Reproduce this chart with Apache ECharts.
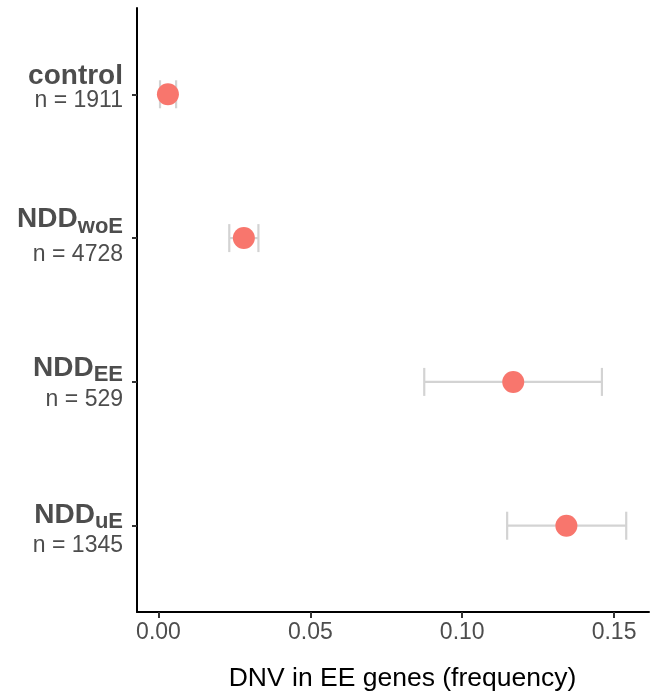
<!DOCTYPE html>
<html>
<head>
<meta charset="utf-8">
<script src="https://cdn.jsdelivr.net/npm/echarts@6/dist/echarts.min.js"></script>
<style>
html,body{margin:0;padding:0;background:#fff;}
#chart{width:650px;height:691px;}
</style>
</head>
<body>
<div id="chart"></div>
<script>
// Data
var groupMain = ['control', 'NDD', 'NDD', 'NDD'];
var groupSub = ['', 'woE', 'EE', 'uE'];
var groupN = [1911, 4728, 529, 1345];
var freq = [0.0031, 0.0281, 0.1168, 0.1343];
var ciLow = [0.0005, 0.0233, 0.0875, 0.1148];
var ciHigh = [0.0058, 0.0329, 0.1460, 0.1540];
var xTicks = [0, 0.05, 0.10, 0.15];
var yPositions = [1, 2, 3, 4];
var xTitle = 'DNV in EE genes (frequency)';

var FONT = '"Liberation Sans", Arial, Helvetica, sans-serif';
var LABEL_COLOR = '#4d4d4d';
// per-label vertical layout (line heights / spacers), styling only
var layoutH1 = [25, 38, 36, 36];
var layoutH2 = [24, 33, 27, 25];
var spacerTop = [0, 0, 0, 4];
var spacerBottom = [13, 5, 0, 0];

var chart = echarts.init(document.getElementById('chart'), null, {renderer: 'canvas'});

var pointData = freq.map(function (v, i) { return [v, yPositions[i]]; });
var errData = freq.map(function (v, i) { return [ciLow[i], ciHigh[i], yPositions[i]]; });

var rich = {};
yPositions.forEach(function (p, i) {
  rich['b' + i] = {fontFamily: FONT, fontSize: 28, fontWeight: 'bold', color: LABEL_COLOR, lineHeight: layoutH1[i]};
  rich['s' + i] = {fontFamily: FONT, fontSize: 22, fontWeight: 'bold', color: LABEL_COLOR, lineHeight: 22, verticalAlign: 'bottom'};
  rich['n' + i] = {fontFamily: FONT, fontSize: 23, color: LABEL_COLOR, lineHeight: layoutH2[i]};
  rich['zt' + i] = {fontSize: 1, lineHeight: spacerTop[i]};
  rich['zb' + i] = {fontSize: 1, lineHeight: spacerBottom[i]};
});

function labelFor(val) {
  var i = yPositions.indexOf(val);
  if (i < 0) return '';
  var s = '';
  if (spacerTop[i] > 0) s += '{zt' + i + '| }\n';
  s += '{b' + i + '|' + groupMain[i] + '}';
  if (groupSub[i]) s += '{s' + i + '|' + groupSub[i] + '}';
  s += '\n{n' + i + '|n = ' + groupN[i] + '}';
  if (spacerBottom[i] > 0) s += '\n{zb' + i + '| }';
  return s;
}

var option = {
  backgroundColor: '#ffffff',
  animation: false,
  grid: {left: 137, right: 1, top: 8, bottom: 79, containLabel: false, outerBoundsMode: 'none'},
  xAxis: {
    type: 'value',
    min: -0.00708,
    max: 0.1615,
    name: xTitle,
    nameLocation: 'middle',
    nameGap: 53,
    nameMoveOverlap: false,
    nameTextStyle: {fontFamily: FONT, fontSize: 26.5, color: '#000000', padding: [0, 0, 0, 19]},
    axisLine: {show: true, onZero: false, lineStyle: {color: '#000000', width: 2}},
    axisTick: {show: true, length: 6, customValues: xTicks, lineStyle: {color: '#333333', width: 2}},
    axisLabel: {
      customValues: xTicks,
      margin: 9,
      fontFamily: FONT, fontSize: 23, color: LABEL_COLOR,
      formatter: function (v) { return v.toFixed(2); }
    },
    splitLine: {show: false}
  },
  yAxis: {
    type: 'value',
    inverse: true,
    min: 0.4,
    max: 4.6,
    axisLine: {show: true, onZero: false, lineStyle: {color: '#000000', width: 2}},
    axisTick: {show: true, length: 5, customValues: yPositions, lineStyle: {color: '#333333', width: 2}},
    axisLabel: {
      customValues: yPositions,
      margin: 14,
      align: 'right',
      formatter: labelFor,
      rich: rich
    },
    splitLine: {show: false}
  },
  series: [
    {
      type: 'custom',
      data: errData,
      encode: {x: [0, 1], y: 2},
      z: 1,
      renderItem: function (params, api) {
        var p1 = api.coord([api.value(0), api.value(2)]);
        var p2 = api.coord([api.value(1), api.value(2)]);
        var h = 14;
        var style = {stroke: '#d3d3d3', lineWidth: 2.2, fill: null};
        return {
          type: 'group',
          children: [
            {type: 'line', shape: {x1: p1[0], y1: p1[1], x2: p2[0], y2: p2[1]}, style: style},
            {type: 'line', shape: {x1: p1[0], y1: p1[1] - h, x2: p1[0], y2: p1[1] + h}, style: style},
            {type: 'line', shape: {x1: p2[0], y1: p2[1] - h, x2: p2[0], y2: p2[1] + h}, style: style}
          ]
        };
      }
    },
    {
      type: 'scatter',
      data: pointData,
      symbol: 'circle',
      symbolSize: 22,
      z: 2,
      itemStyle: {color: '#F8766D', opacity: 1}
    }
  ]
};
chart.setOption(option);
</script>
</body>
</html>
